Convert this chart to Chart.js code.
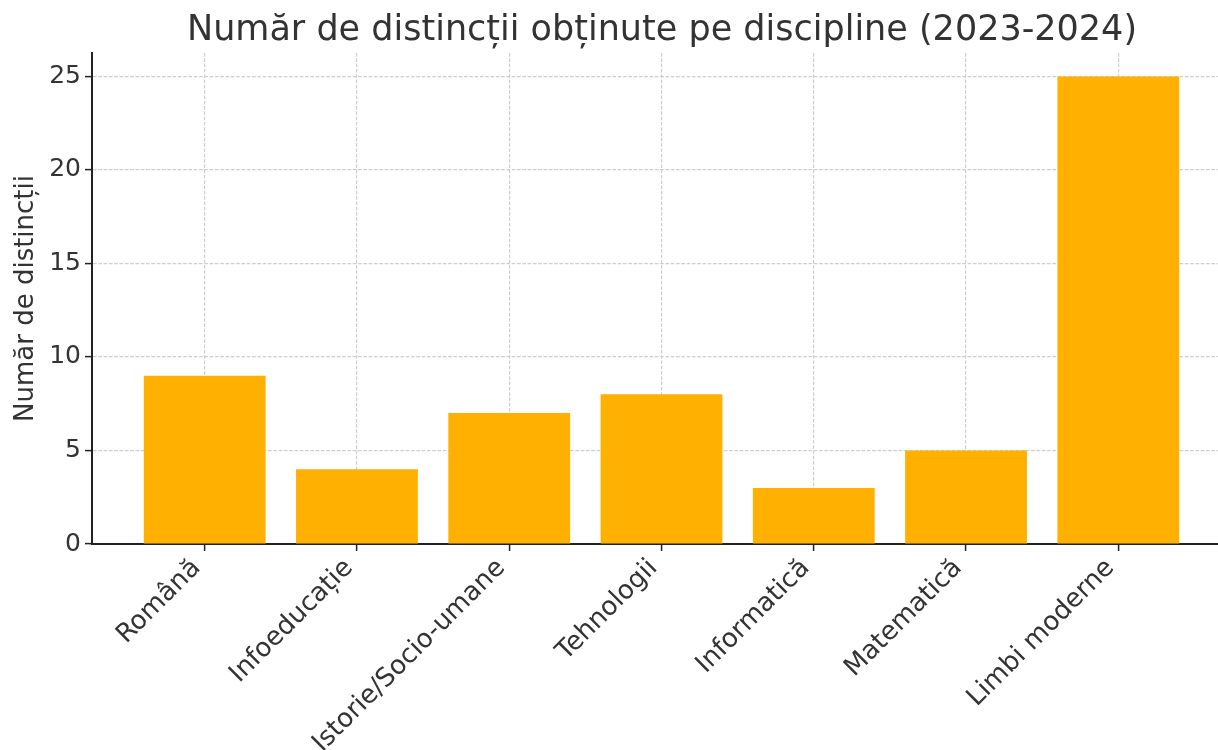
<!DOCTYPE html>
<html>
<head>
<meta charset="utf-8">
<script src="https://cdn.jsdelivr.net/npm/chart.js@4.4.1/dist/chart.umd.min.js"></script>
<style>
  html, body { margin: 0; padding: 0; background: #fff; overflow: hidden; }
  #wrap { width: 1324px; height: 750px; position: relative; }
</style>
</head>
<body>
<div id="wrap"><canvas id="c"></canvas></div>
<script>
const categories = ["Română", "Infoeducație", "Istorie/Socio-umane", "Tehnologii", "Informatică", "Matematică", "Limbi moderne"];
const values = [9, 4, 7, 8, 3, 5, 25];
const yTicks = [0, 5, 10, 15, 20, 25];
const chartTitle = "Număr de distincții obținute pe discipline (2023-2024)";
const yTitle = "Număr de distincții";

const FONT = "'DejaVu Sans', sans-serif";
const TEXT = "#333333";

const points = categories.map((c, i) => ({ x: i, y: values[i] }));

const gridOpts = {
  color: '#cfcfcf',
  lineWidth: 1.2,
  tickColor: '#222',
  tickLength: 7,
  tickBorderDash: [],
  tickWidth: 1.5,
  offset: false
};

new Chart(document.getElementById('c'), {
  type: 'bar',
  data: {
    datasets: [{
      data: points,
      backgroundColor: '#FFB000',
      borderWidth: 0,
      categoryPercentage: 0.8,
      barPercentage: 1.0
    }]
  },
  options: {
    responsive: true,
    maintainAspectRatio: false,
    animation: false,
    layout: { padding: 0 },
    plugins: {
      legend: { display: false },
      tooltip: { enabled: false },
      title: {
        display: true,
        text: chartTitle,
        color: TEXT,
        font: { family: FONT, size: 35, weight: 'normal' },
        padding: { top: 10, bottom: 1 }
      }
    },
    scales: {
      x: {
        type: 'linear',
        min: -0.74,
        max: 6.74,
        offset: false,
        z: 1,
        afterBuildTicks: (scale) => { scale.ticks = categories.map((c, i) => ({ value: i })); },
        afterFit: (scale) => { scale.height = 206; },
        ticks: {
          autoSkip: false,
          minRotation: 45,
          maxRotation: 45,
          color: TEXT,
          font: { family: FONT, size: 26 },
          padding: 2,
          labelOffset: -8,
          callback: (v) => categories[v]
        },
        grid: gridOpts,
        border: { display: true, color: '#222', width: 2, dash: [3.7, 1.6] }
      },
      y: {
        type: 'linear',
        min: 0,
        max: 26.25,
        z: 1,
        afterBuildTicks: (scale) => { scale.ticks = yTicks.map(v => ({ value: v })); },
        afterFit: (scale) => { scale.width = 92; },
        ticks: {
          color: TEXT,
          font: { family: FONT, size: 25 },
          padding: 4
        },
        title: {
          display: true,
          text: yTitle,
          color: TEXT,
          font: { family: FONT, size: 26 },
          padding: { top: 11, bottom: 0 }
        },
        grid: gridOpts,
        border: { display: true, color: '#222', width: 2, dash: [3.7, 1.6] }
      },
      ySpacer: {
        type: 'linear',
        position: 'right',
        display: true,
        min: 0,
        max: 26.25,
        afterFit: (scale) => { scale.width = 93; },
        ticks: { display: false },
        grid: { display: false, drawOnChartArea: false, drawTicks: false },
        border: { display: false },
        title: { display: false }
      }
    }
  }
});
</script>
</body>
</html>
